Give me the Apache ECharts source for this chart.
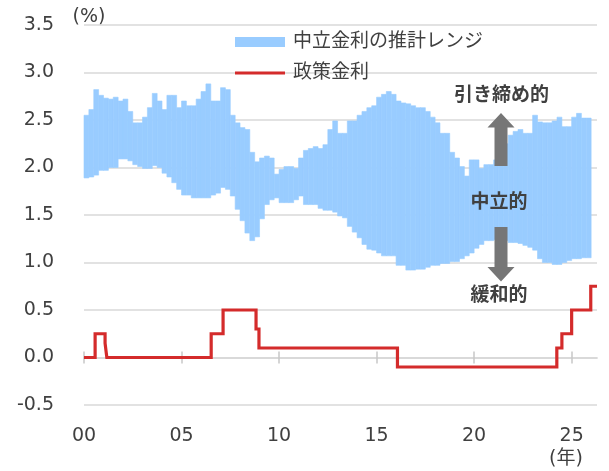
<!DOCTYPE html>
<html>
<head>
<meta charset="utf-8">
<script src="https://cdn.jsdelivr.net/npm/echarts@6/dist/echarts.min.js"></script>
<style>
  html, body { margin: 0; padding: 0; background: #fff; }
  #chart { width: 609px; height: 471px; }
</style>
</head>
<body>
<div id="chart"></div>
<script>
// 中立金利の推計レンジ: quarterly, 2000Q1 .. 2025Q4
const bandStart = 2000;
const bandStep = 0.25;
const bandHigh = [
  2.55, 2.61, 2.82, 2.76, 2.73, 2.72, 2.74, 2.70, 2.72, 2.59,
  2.47, 2.47, 2.53, 2.63, 2.78, 2.70, 2.61, 2.76, 2.76, 2.63,
  2.70, 2.65, 2.65, 2.72, 2.80, 2.88, 2.70, 2.70, 2.84, 2.82,
  2.55, 2.47, 2.42, 2.40, 2.16, 2.06, 2.10, 2.12, 2.10, 1.93,
  1.98, 2.01, 2.01, 1.99, 2.10, 2.18, 2.20, 2.22, 2.20, 2.24,
  2.40, 2.49, 2.36, 2.36, 2.49, 2.49, 2.55, 2.59, 2.63, 2.65,
  2.74, 2.77, 2.80, 2.77, 2.70, 2.68, 2.67, 2.65, 2.63, 2.63,
  2.59, 2.53, 2.47, 2.36, 2.36, 2.16, 2.10, 2.01, 1.91, 2.08,
  2.08, 1.99, 2.03, 2.03, 2.08, 2.15, 2.25, 2.34, 2.38, 2.40,
  2.36, 2.36, 2.55, 2.48, 2.47, 2.47, 2.49, 2.53, 2.43, 2.43,
  2.53, 2.57, 2.52, 2.52
];
const bandLow = [
  1.89, 1.90, 1.92, 1.97, 1.97, 2.00, 2.00, 2.09, 2.09, 2.07,
  2.03, 2.01, 1.99, 1.99, 2.02, 2.00, 1.94, 1.90, 1.84, 1.77,
  1.71, 1.71, 1.68, 1.68, 1.68, 1.68, 1.71, 1.73, 1.79, 1.77,
  1.70, 1.56, 1.44, 1.31, 1.23, 1.27, 1.46, 1.61, 1.66, 1.68,
  1.63, 1.63, 1.63, 1.66, 1.70, 1.61, 1.61, 1.61, 1.57, 1.55,
  1.55, 1.53, 1.49, 1.47, 1.38, 1.32, 1.26, 1.19, 1.14, 1.13,
  1.10, 1.07, 1.07, 1.07, 0.97, 0.97, 0.92, 0.92, 0.93, 0.93,
  0.95, 0.97, 0.97, 0.99, 0.99, 1.01, 1.01, 1.04, 1.07, 1.10,
  1.15, 1.19, 1.23, 1.23, 1.24, 1.25, 1.23, 1.21, 1.21, 1.20,
  1.18, 1.16, 1.13, 1.04, 1.00, 1.00, 0.98, 0.98, 1.00, 1.02,
  1.04, 1.04, 1.05, 1.05
];

// 政策金利: change dates (year) and new level
const policyX = [2000.0, 2000.57, 2001.08, 2001.17, 2006.52, 2007.13, 2008.82, 2008.97,
                 2016.07, 2024.24, 2024.5, 2025.0, 2025.98, 2026.3];
const policyY = [0, 0.25, 0.15, 0, 0.25, 0.5, 0.3, 0.1,
                 -0.1, 0.1, 0.25, 0.5, 0.75, 0.75];

const xTicks = [2000, 2005, 2010, 2015, 2020, 2025];

const BAND_NAME = '中立金利の推計レンジ';
const POLICY_NAME = '政策金利';
const FONT = "'DejaVu Sans', 'Noto Sans CJK JP', sans-serif";
const TEXT = '#404040';
const GRID = '#d9d9d9';
const BLUE = '#99ccff';
const RED = '#d42b2b';
const ARROW = '#767676';

const chart = echarts.init(document.getElementById('chart'));

const xBase = {
  type: 'value',
  min: 2000,
  max: 2026.3,
  splitLine: { show: false }
};

chart.setOption({
  animation: false,
  textStyle: { fontFamily: FONT },
  grid: { left: 84, right: 12, top: 25, bottom: 66, containLabel: false, outerBoundsMode: 'none' },
  legend: {
    orient: 'vertical',
    left: 235,
    top: 32,
    padding: 0,
    itemWidth: 50,
    itemHeight: 10,
    itemGap: 11,
    selectedMode: false,
    textStyle: { fontSize: 19, color: TEXT, fontFamily: FONT, lineHeight: 20, padding: [0, 0, 0, 3] },
    data: [
      { name: BAND_NAME, icon: 'rect', itemStyle: { color: BLUE } },
      { name: POLICY_NAME, icon: 'path://M0,0H52V3H0Z', itemStyle: { color: RED, borderWidth: 0 } }
    ]
  },
  xAxis: [
    Object.assign({}, xBase, {
      position: 'bottom',
      axisLine: { onZero: true, onZeroAxisIndex: 0, lineStyle: { color: GRID, width: 1.5 } },
      axisTick: { show: true, length: 6, customValues: xTicks, lineStyle: { color: '#c8c8c8', width: 1.5 } },
      axisLabel: {
        customValues: xTicks,
        margin: 22,
        fontSize: 19,
        color: TEXT,
        formatter: v => String(Math.round(v) % 100).padStart(2, '0')
      }
    }),
    // upper half of the ticks that cross the zero line
    Object.assign({}, xBase, {
      position: 'top',
      axisLine: { onZero: true, onZeroAxisIndex: 0, lineStyle: { color: GRID, width: 1.5 } },
      axisTick: { show: true, length: 6, customValues: xTicks, lineStyle: { color: '#c8c8c8', width: 1.5 } },
      axisLabel: { show: false }
    })
  ],
  yAxis: {
    type: 'value',
    min: -0.5,
    max: 3.5,
    interval: 0.5,
    axisLine: { show: false },
    axisTick: { show: false },
    axisLabel: { fontSize: 19, color: TEXT, margin: 30, formatter: v => v.toFixed(1) },
    splitLine: { lineStyle: { color: GRID, width: 1.5 } }
  },
  series: [
    {
      name: BAND_NAME,
      type: 'custom',
      xAxisIndex: 0,
      yAxisIndex: 0,
      itemStyle: { color: BLUE },
      encode: { x: 0, y: [1, 2] },
      data: bandLow.map((lo, i) => [bandStart + i * bandStep, lo, bandHigh[i]]),
      renderItem: (params, api) => {
        const x = api.value(0);
        const p0 = api.coord([x, api.value(2)]);
        const p1 = api.coord([x + bandStep, api.value(1)]);
        return {
          type: 'rect',
          shape: { x: p0[0], y: p0[1], width: p1[0] - p0[0], height: p1[1] - p0[1] },
          style: { fill: BLUE, stroke: BLUE, lineWidth: 0.6 }
        };
      },
      z: 2
    },
    {
      name: POLICY_NAME,
      type: 'line',
      xAxisIndex: 0,
      yAxisIndex: 0,
      step: 'end',
      symbol: 'none',
      data: policyX.map((x, i) => [x, policyY[i]]),
      itemStyle: { color: RED },
      lineStyle: { color: RED, width: 3.2, join: 'miter', cap: 'butt' },
      z: 3
    }
  ],
  graphic: [
    { type: 'text', x: 89, y: 17, style: { text: '(%)', fontSize: 19, fontFamily: FONT, fill: TEXT, align: 'center', verticalAlign: 'middle' } },
    { type: 'text', x: 566, y: 459, style: { text: '(年)', fontSize: 19, fontFamily: FONT, fill: TEXT, align: 'center', verticalAlign: 'middle' } },
    { type: 'polygon', shape: { points: [[501, 113], [514.5, 127.5], [507.5, 127.5], [507.5, 166], [494.5, 166], [494.5, 127.5], [487.5, 127.5]] }, style: { fill: ARROW }, z: 10 },
    { type: 'polygon', shape: { points: [[501, 281.5], [514.5, 267], [507.5, 267], [507.5, 227], [494.5, 227], [494.5, 267], [487.5, 267]] }, style: { fill: ARROW }, z: 10 },
    { type: 'text', x: 501.5, y: 96.5, z: 10, style: { text: '引き締め的', fontSize: 19, fontWeight: 'bold', fontFamily: FONT, fill: TEXT, align: 'center', verticalAlign: 'middle' } },
    { type: 'text', x: 499, y: 203.5, z: 10, style: { text: '中立的', fontSize: 19, fontWeight: 'bold', fontFamily: FONT, fill: TEXT, align: 'center', verticalAlign: 'middle' } },
    { type: 'text', x: 499, y: 296, z: 10, style: { text: '緩和的', fontSize: 19, fontWeight: 'bold', fontFamily: FONT, fill: TEXT, align: 'center', verticalAlign: 'middle' } }
  ]
});
</script>
</body>
</html>
